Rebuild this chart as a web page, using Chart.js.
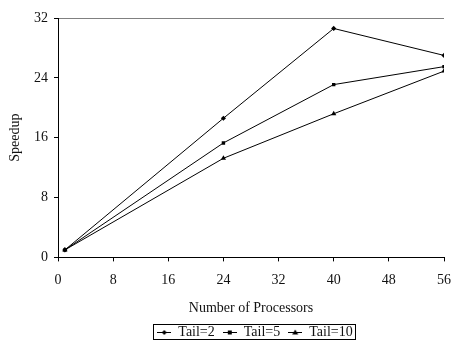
<!DOCTYPE html>
<html>
<head>
<meta charset="utf-8">
<script src="https://cdn.jsdelivr.net/npm/chart.js@4/dist/chart.umd.min.js"></script>
<style>
  html, body { margin: 0; padding: 0; background: #fff; }
  #wrap { width: 453px; height: 350px; }
</style>
</head>
<body>
<div id="wrap"><canvas id="c" width="453" height="350"></canvas></div>
<script>
const processors = [1, 24, 40, 56];
const tail2 = [1, 18.6, 30.6, 27.0];
const tail5 = [1, 15.3, 23.1, 25.5];
const tail10 = [1, 13.25, 19.2, 24.9];
const seriesNames = ['Tail=2', 'Tail=5', 'Tail=10'];
const xTicks = [0, 8, 16, 24, 32, 40, 48, 56];
const yTicks = [0, 8, 16, 24, 32];

const FONT = 'Liberation Serif';
const markers = ['rectRot', 'rect', 'triangle'];
const markerRadius = [2.6, 2.4, 3];

function pts(ys) { return processors.map((x, i) => ({ x: x, y: ys[i] })); }

function legendImage(style) {
  const c = document.createElement('canvas');
  c.width = 14; c.height = 8;
  const g = c.getContext('2d');
  g.strokeStyle = '#000'; g.fillStyle = '#000'; g.lineWidth = 1;
  g.beginPath(); g.moveTo(0, 4.5); g.lineTo(14, 4.5); g.stroke();
  g.beginPath();
  if (style === 'rectRot') { g.moveTo(7, 2); g.lineTo(9.5, 4.5); g.lineTo(7, 7); g.lineTo(4.5, 4.5); }
  else if (style === 'rect') { g.rect(5, 2.5, 4, 4); }
  else { g.moveTo(7, 1.5); g.lineTo(10, 6.5); g.lineTo(4, 6.5); }
  g.closePath(); g.fill();
  return c;
}

const datasets = [tail2, tail5, tail10].map((ys, i) => ({
  label: seriesNames[i],
  data: pts(ys),
  borderColor: '#000',
  backgroundColor: '#000',
  borderWidth: 1,
  pointStyle: markers[i],
  pointRadius: markerRadius[i],
  pointBorderWidth: 0,
  pointBackgroundColor: '#000',
  tension: 0
}));

const legendBox = {
  id: 'legendBox',
  afterLayout(chart) {
    const lg = chart.legend;
    if (lg) { lg.left += 4; lg.right += 4; }
  },
  afterDraw(chart) {
    const lg = chart.legend;
    if (!lg || !lg.legendHitBoxes || !lg.legendHitBoxes.length) return;
    const hb = lg.legendHitBoxes;
    const left = Math.min(...hb.map(h => h.left)) - 4;
    const right = Math.max(...hb.map(h => h.left + h.width)) + 3;
    const top = Math.min(...hb.map(h => h.top)) - 1;
    const bottom = Math.max(...hb.map(h => h.top + h.height)) + 0;
    const ctx = chart.ctx;
    ctx.save();
    ctx.strokeStyle = '#000';
    ctx.lineWidth = 1;
    ctx.strokeRect(Math.round(left) + 0.5, Math.round(top) + 0.5, Math.round(right - left), Math.round(bottom - top));
    ctx.restore();
  }
};

new Chart(document.getElementById('c'), {
  type: 'line',
  data: { datasets },
  plugins: [legendBox],
  options: {
    responsive: false,
    animation: false,
    devicePixelRatio: 1,
    layout: { padding: { top: 18, right: 9, left: 0, bottom: 1 } },
    font: { family: FONT, size: 14 },
    color: '#111',
    plugins: {
      tooltip: { enabled: false },
      legend: {
        position: 'bottom',
        fullSize: false,
        labels: {
          usePointStyle: true,
          pointStyleWidth: 14,
          padding: 8,
          color: '#111',
          font: { family: FONT, size: 14 },
          generateLabels(chart) {
            const items = Chart.defaults.plugins.legend.labels.generateLabels(chart);
            items.forEach((it, i) => { it.pointStyle = legendImage(markers[i]); });
            return items;
          }
        }
      }
    },
    scales: {
      x: {
        type: 'linear',
        min: 0, max: 56,
        afterBuildTicks(scale) { scale.ticks = xTicks.map(v => ({ value: v })); },
        afterFit(scale) { scale.paddingRight = 0; scale.paddingLeft = 0; },
        ticks: { color: '#111', padding: 11, maxRotation: 0, font: { family: FONT, size: 14 } },
        grid: { drawOnChartArea: false, tickLength: 4, tickColor: '#000', color: '#000' },
        border: { color: '#000', width: 1 },
        title: { display: true, text: 'Number of Processors', color: '#111', font: { family: FONT, size: 14 }, padding: { top: 0, bottom: 0 } }
      },
      y: {
        type: 'linear',
        min: 0, max: 32,
        afterBuildTicks(scale) { scale.ticks = yTicks.map(v => ({ value: v })); },
        afterFit(scale) { scale.width = 58; },
        ticks: { color: '#111', padding: 6, font: { family: FONT, size: 14 } },
        grid: {
          drawOnChartArea: true,
          tickLength: 4,
          tickColor: '#000',
          color: ctx => (ctx.tick && ctx.tick.value === 32) ? '#808080' : 'rgba(0,0,0,0)'
        },
        border: { color: '#000', width: 1 },
        title: { display: true, text: 'Speedup', color: '#111', font: { family: FONT, size: 14 }, padding: { top: 7, bottom: 0 } }
      }
    }
  }
});
</script>
</body>
</html>
